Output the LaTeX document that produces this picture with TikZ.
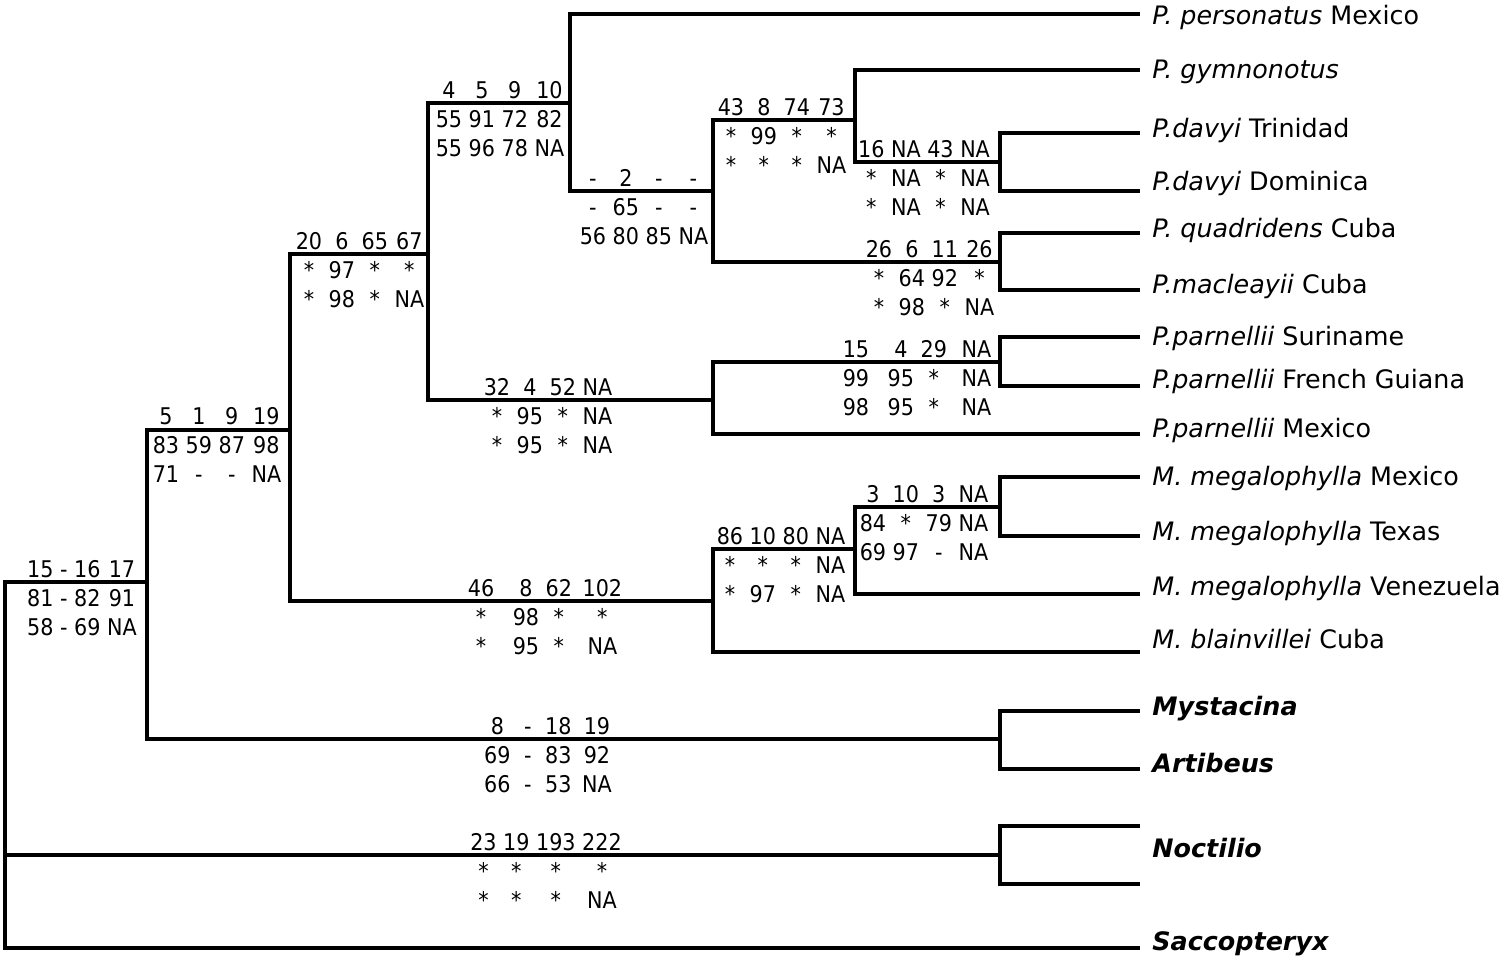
\documentclass[tikz,border=0pt]{standalone}
\usepackage{fontspec}
\setmainfont{DejaVu Sans}
\newfontfamily\svfont{DejaVu Sans}[FakeStretch=0.9]
\usetikzlibrary{matrix}

\tikzset{
  br/.style={line width=2pt},
  tip/.style={anchor=base west,inner sep=0pt,font=\fontsize{12.7}{15}\selectfont},
  sv/.style={matrix of nodes,matrix anchor=north,inner sep=0pt,column sep=3.3pt,row sep=6.1pt,
    nodes={inner sep=0pt,text height=8.4pt,text depth=0pt,font=\svfont\fontsize{11.5}{14}\selectfont}},
}

\begin{document}
\begin{tikzpicture}[x=0.5pt,y=-0.5pt]
  \useasboundingbox (0,0) rectangle (1507,960);

  % inner nodes of the tree
  \coordinate (root) at (5,765);
  \coordinate (A) at (147,582);
  \coordinate (B) at (290,430);
  \coordinate (C) at (428,254);
  \coordinate (D) at (570,103);
  \coordinate (E) at (713,191);
  \coordinate (F) at (855,120);
  \coordinate (G) at (1000,162);
  \coordinate (H) at (1000,262);
  \coordinate (I) at (713,400);
  \coordinate (J) at (1000,362);
  \coordinate (K) at (713,601);
  \coordinate (L) at (855,549);
  \coordinate (M) at (1000,507);
  \coordinate (N) at (1000,739);
  \coordinate (O) at (1000,855);

  % ends of the tips
  \coordinate (t-per) at (1140,14);
  \coordinate (t-gym) at (1140,70);
  \coordinate (t-dT) at (1140,133);
  \coordinate (t-dD) at (1140,191);
  \coordinate (t-qua) at (1140,233);
  \coordinate (t-mac) at (1140,290);
  \coordinate (t-pS) at (1140,337);
  \coordinate (t-pF) at (1140,386);
  \coordinate (t-pM) at (1140,434);
  \coordinate (t-mM) at (1140,477);
  \coordinate (t-mT) at (1140,536);
  \coordinate (t-mV) at (1140,594);
  \coordinate (t-bla) at (1140,652);
  \coordinate (t-mys) at (1140,711);
  \coordinate (t-art) at (1140,769);
  \coordinate (t-no1) at (1140,826);
  \coordinate (t-no2) at (1140,884);
  \coordinate (t-sac) at (1140,948);

  \draw[br] (root) |- (A) (root) |- (O) (root) |- (t-sac);
  \draw[br] (A) |- (B) (A) |- (N);
  \draw[br] (B) |- (C) (B) |- (K);
  \draw[br] (C) |- (D) (C) |- (I);
  \draw[br] (D) |- (t-per) (D) |- (E);
  \draw[br] (E) |- (F) (E) |- (H);
  \draw[br] (F) |- (t-gym) (F) |- (G);
  \draw[br] (G) |- (t-dT) (G) |- (t-dD);
  \draw[br] (H) |- (t-qua) (H) |- (t-mac);
  \draw[br] (I) |- (J) (I) |- (t-pM);
  \draw[br] (J) |- (t-pS) (J) |- (t-pF);
  \draw[br] (K) |- (L) (K) |- (t-bla);
  \draw[br] (L) |- (M) (L) |- (t-mV);
  \draw[br] (M) |- (t-mM) (M) |- (t-mT);
  \draw[br] (N) |- (t-mys) (N) |- (t-art);
  \draw[br] (O) |- (t-no1) (O) |- (t-no2);

  % taxa
  \node[tip] (per) at (1152,24) {\textit{P. personatus} Mexico};
  \node[tip] (gym) at (1152,78) {\textit{P. gymnonotus}};
  \node[tip] (dT) at (1152,137) {\textit{P.davyi} Trinidad};
  \node[tip] (dD) at (1152,190) {\textit{P.davyi} Dominica};
  \node[tip] (qua) at (1152,237) {\textit{P. quadridens} Cuba};
  \node[tip] (mac) at (1152,293) {\textit{P.macleayii} Cuba};
  \node[tip] (pS) at (1152,345) {\textit{P.parnellii} Suriname};
  \node[tip] (pF) at (1152,388) {\textit{P.parnellii} French Guiana};
  \node[tip] (pM) at (1152,437) {\textit{P.parnellii} Mexico};
  \node[tip] (mM) at (1152,485) {\textit{M. megalophylla} Mexico};
  \node[tip] (mT) at (1152,540) {\textit{M. megalophylla} Texas};
  \node[tip] (mV) at (1152,595) {\textit{M. megalophylla} Venezuela};
  \node[tip] (bla) at (1152,648) {\textit{M. blainvillei} Cuba};
  \node[tip] (mys) at (1152,715) {\textbf{\textit{Mystacina}}};
  \node[tip] (art) at (1152,772) {\textbf{\textit{Artibeus}}};
  \node[tip] (noc) at (1152,857) {\textbf{\textit{Noctilio}}};
  \node[tip] (sac) at (1152,950) {\textbf{\textit{Saccopteryx}}};

  % support values
  \matrix[sv] (s1) at (500,103-22) {4 & 5 & 9 & 10\\ 55 & 91 & 72 & 82\\ 55 & 96 & 78 & NA\\};
  \matrix[sv] (s2) at (644,191-22) {- & 2 & - & -\\ - & 65 & - & -\\ 56 & 80 & 85 & NA\\};
  \matrix[sv] (s3) at (782,120-22) {43 & 8 & 74 & 73\\ * & 99 & * & *\\ * & * & * & NA\\};
  \matrix[sv] (s4) at (924,162-22) {16 & NA & 43 & NA\\ * & NA & * & NA\\ * & NA & * & NA\\};
  \matrix[sv] (s5) at (930,262-22) {26 & 6 & 11 & 26\\ * & 64 & 92 & *\\ * & 98 & * & NA\\};
  \matrix[sv] (s6) at (360,254-22) {20 & 6 & 65 & 67\\ * & 97 & * & *\\ * & 98 & * & NA\\};
  \matrix[sv] (s7) at (217,429-22) {5 & 1 & 9 & 19\\ 83 & 59 & 87 & 98\\ 71 & - & - & NA\\};
  \matrix[sv] (s8) at (82,582-22) {15 & - & 16 & 17\\ 81 & - & 82 & 91\\ 58 & - & 69 & NA\\};
  \matrix[sv] (s9) at (548,400-22) {32 & 4 & 52 & NA\\ * & 95 & * & NA\\ * & 95 & * & NA\\};
  \matrix[sv] (s10) at (917,362-22) {15 &[6pt] 4 & 29 &[4pt] NA\\ 99 & 95 & * & NA\\ 98 & 95 & * & NA\\};
  \matrix[sv] (s11) at (924,507-22) {3 & 10 & 3 & NA\\ 84 & * & 79 & NA\\ 69 & 97 & - & NA\\};
  \matrix[sv] (s12) at (781,549-22) {86 & 10 & 80 & NA\\ * & * & * & NA\\ * & 97 & * & NA\\};
  \matrix[sv] (s13) at (545,601-22) {46 &[6pt] 8 & 62 &[2pt] 102\\ * & 98 & * & *\\ * & 95 & * & NA\\};
  \matrix[sv] (s14) at (548,739-22) {8 &[3.5pt] - &[3.5pt] 18 &[2pt] 19\\ 69 & - & 83 & 92\\ 66 & - & 53 & NA\\};
  \matrix[sv] (s15) at (546,855-22) {23 & 19 & 193 & 222\\ * & * & * & *\\ * & * & * & NA\\};
\end{tikzpicture}
\end{document}
